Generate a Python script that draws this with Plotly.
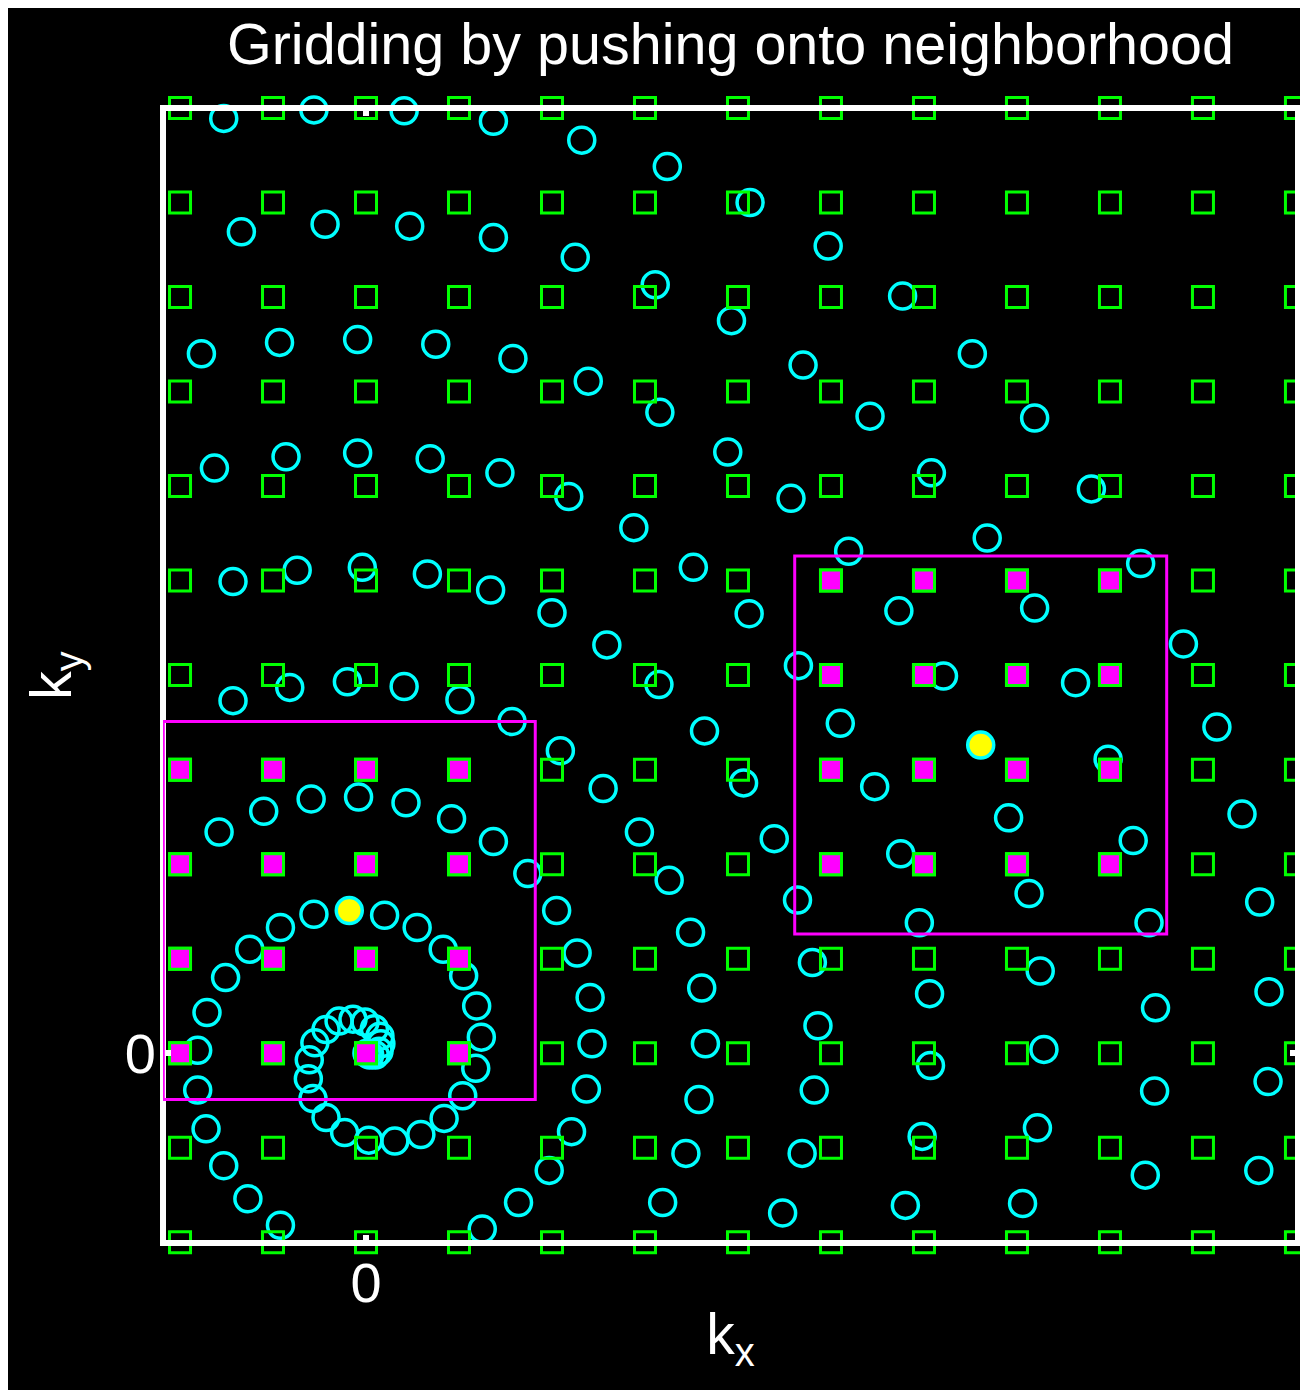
import numpy as np
import plotly.graph_objects as go

# ---------------- data ----------------
TITLE = "Gridding by pushing onto neighborhood"

# Cartesian grid (integer k-space locations)
GRID_KX = list(range(-2, 11))
GRID_KY = list(range(-2, 11))

# Non-Cartesian spiral samples (kx, ky)
SAMPLE_KX = [
    # arm 1
    -1.53, -0.56, 0.41, 1.37, 2.32, 3.24, 4.13, 4.97, 5.77, 6.52, 7.19, 7.80, 8.33, 8.79, 9.15, 9.42, 9.61, 9.71, 9.70, 9.60,
    # arm 2
    -1.34, -0.44, 0.47, 1.37, 2.25, 3.11, 3.93, 4.70, 5.42, 6.08, 6.68, 7.19, 7.63, 7.98, 8.25, 8.42, 8.49, 8.48, 8.38,
    # arm 3
    -1.77, -0.93, -0.09, 0.75, 1.58, 2.39, 3.16, 3.89, 4.57, 5.19, 5.73, 6.21, 6.91, 7.13, 7.25, 7.29, 7.22, 7.06,
    # arm 4
    -1.63, -0.86, -0.09, 0.69, 1.44, 2.18, 2.88, 3.52, 4.12, 4.65, 5.10, 5.47, 5.75, 5.95, 6.06, 6.07, 5.98, 5.80,
    # arm 5
    -1.43, -0.74, -0.04, 0.66, 1.34, 2.00, 2.59, 3.15, 3.64, 4.06, 4.39, 4.64, 4.80, 4.86, 4.82, 4.69, 4.48,
    # arm 6
    -1.43, -0.82, -0.20, 0.41, 1.01, 1.57, 2.09, 2.55, 2.94, 3.26, 3.49, 3.61, 3.65, 3.58, 3.44, 3.19,
    # arm 7
    -1.58, -1.10, -0.59, -0.08, 0.43, 0.92, 1.37, 1.74, 2.05, 2.27, 2.41, 2.43, 2.37, 2.21, 1.97, 1.64, 1.25,
    # arm 8 (inner spiral)
    -0.92, -1.27, -1.53, -1.72, -1.81, -1.81, -1.71, -1.51, -1.25, -0.92, -0.56, 0.20, 0.55, 0.83, 1.05, 1.19,
    1.24, 1.18, 1.04, 0.84, 0.59, 0.31, 0.03, -0.23, -0.43, -0.57, -0.62, -0.61, -0.55, -0.43, -0.29, -0.14,
    -0.01, 0.09, 0.15, 0.16, 0.14, 0.10, 0.04, 0.01,
]
SAMPLE_KY = [
    # arm 1
    9.89, 9.98, 9.97, 9.86, 9.66, 9.38, 9.00, 8.54, 8.01, 7.40, 6.72, 5.97, 5.18, 4.33, 3.45, 2.53, 1.60, 0.65, -0.30, -1.24,
    # arm 2
    8.69, 8.77, 8.75, 8.63, 8.42, 8.13, 7.75, 7.28, 6.74, 6.14, 5.45, 4.71, 3.92, 3.11, 2.25, 1.38, 0.48, -0.40, -1.29,
    # arm 3
    7.40, 7.52, 7.55, 7.50, 7.35, 7.11, 6.78, 6.36, 5.87, 5.31, 4.68, 3.99, 2.49, 1.69, 0.87, 0.04, -0.79, -1.59,
    # arm 4
    6.19, 6.31, 6.35, 6.29, 6.14, 5.89, 5.56, 5.14, 4.65, 4.10, 3.49, 2.82, 2.11, 1.38, 0.63, -0.13, -0.88, -1.61,
    # arm 5
    4.99, 5.11, 5.14, 5.07, 4.90, 4.66, 4.32, 3.90, 3.41, 2.86, 2.27, 1.62, 0.96, 0.29, -0.39, -1.06, -1.69,
    # arm 6
    3.73, 3.87, 3.93, 3.88, 3.74, 3.51, 3.20, 2.80, 2.34, 1.83, 1.28, 0.69, 0.10, -0.49, -1.06, -1.58,
    # arm 7
    2.34, 2.56, 2.69, 2.71, 2.65, 2.48, 2.24, 1.90, 1.51, 1.06, 0.59, 0.10, -0.38, -0.83, -1.24, -1.58, -1.86,
    # arm 8 (inner spiral)
    -1.82, -1.54, -1.19, -0.80, -0.39, 0.03, 0.43, 0.80, 1.10, 1.33, 1.47, 1.46, 1.33, 1.10, 0.82, 0.50,
    0.17, -0.16, -0.45, -0.69, -0.86, -0.93, -0.92, -0.84, -0.68, -0.48, -0.27, -0.07, 0.11, 0.25, 0.34, 0.36,
    0.33, 0.26, 0.18, 0.10, 0.02, -0.02, -0.02, 0.00,
]

# Highlighted samples being pushed onto their neighborhoods
FOCUS_KX = [-0.18, 6.61]
FOCUS_KY = [1.51, 3.26]
NEIGHBORHOOD_HALF = 2.0

TICK_VALS = [0]
TICK_TEXT = ["0"]

# ---------------- styling ----------------
FONT = "Liberation Sans, Arial, Helvetica, sans-serif"
GREEN = "#00ff00"
CYAN = "#00ffff"
MAGENTA = "#ff00ff"
YELLOW = "#ffff00"

W, H = 1300, 1382

gx, gy = np.meshgrid(GRID_KX, GRID_KY)
gx = gx.ravel()
gy = gy.ravel()

inside = np.zeros(gx.shape, dtype=bool)
for fx, fy in zip(FOCUS_KX, FOCUS_KY):
    inside |= (np.abs(gx - fx) <= NEIGHBORHOOD_HALF) & (np.abs(gy - fy) <= NEIGHBORHOOD_HALF)

fig = go.Figure()

fig.add_trace(go.Scatter(
    x=SAMPLE_KX, y=SAMPLE_KY, mode="markers",
    marker=dict(symbol="circle-open", size=26, color=CYAN, line=dict(width=3.5, color=CYAN)),
    cliponaxis=False, showlegend=False, hoverinfo="skip",
))
fig.add_trace(go.Scatter(
    x=gx, y=gy, mode="markers",
    marker=dict(symbol="square-open", size=21, color=GREEN, line=dict(width=3, color=GREEN)),
    cliponaxis=False, showlegend=False, hoverinfo="skip",
))
fig.add_trace(go.Scatter(
    x=gx[inside], y=gy[inside], mode="markers",
    marker=dict(symbol="square", size=21, color=MAGENTA, line=dict(width=3, color=GREEN)),
    cliponaxis=False, showlegend=False, hoverinfo="skip",
))
fig.add_trace(go.Scatter(
    x=FOCUS_KX, y=FOCUS_KY, mode="markers",
    marker=dict(symbol="circle", size=26, color=YELLOW, line=dict(width=3.5, color=CYAN)),
    cliponaxis=False, showlegend=False, hoverinfo="skip",
))

# white frame centred on the plot-area edges
fig.add_shape(type="rect", xref="paper", yref="paper", x0=0, x1=1, y0=0, y1=1,
              line=dict(color="white", width=6), layer="above")

for fx, fy in zip(FOCUS_KX, FOCUS_KY):
    fig.add_shape(type="rect", xref="x", yref="y",
                  x0=fx - NEIGHBORHOOD_HALF, x1=fx + NEIGHBORHOOD_HALF,
                  y0=fy - NEIGHBORHOOD_HALF, y1=fy + NEIGHBORHOOD_HALF,
                  line=dict(color=MAGENTA, width=3), layer="above")

axis_common = dict(
    showline=True, linecolor="rgba(0,0,0,0)", linewidth=1, mirror="ticks",
    ticks="inside", ticklen=8, tickwidth=6, tickcolor="white",
    tickvals=TICK_VALS, ticktext=TICK_TEXT,
    tickfont=dict(family=FONT, size=56, color="white"),
    showgrid=False, zeroline=False, fixedrange=True, automargin=False,
)

fig.update_layout(
    width=W, height=H,
    paper_bgcolor="black", plot_bgcolor="black",
    margin=dict(l=155, r=W - 155 - 1135, t=100, b=H - 100 - 1135, pad=0, autoexpand=False),
    title=dict(text=TITLE, x=0.5, xref="paper", xanchor="center",
               y=1 - 36 / H, yref="container", yanchor="middle",
               font=dict(family=FONT, size=57.5, color="white")),
    xaxis=dict(range=[-2.183, 10.022], ticklabelstandoff=-9, **axis_common,
               title=dict(text="k<sub>x</sub>", standoff=0,
                          font=dict(family=FONT, size=57, color="white"))),
    yaxis=dict(range=[-2.008, 10.0], ticklabelstandoff=-5, **axis_common,
               title=dict(text="k<sub>y</sub>", standoff=34,
                          font=dict(family=FONT, size=57, color="white"))),
)

fig.write_html("out.html")
